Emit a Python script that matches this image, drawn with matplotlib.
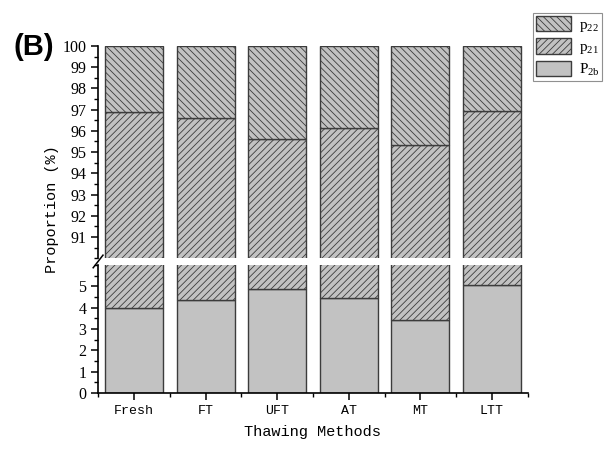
import matplotlib as mpl
mpl.use("Agg")
import matplotlib.pyplot as plt
from matplotlib.lines import Line2D
from matplotlib.ticker import MultipleLocator
import numpy as np

# data
Methods = ["Fresh", "FT", "UFT", "AT", "MT", "LTT"]
P2b = [4.0, 4.37, 4.88, 4.45, 3.4, 5.07]
p21 = [92.9, 92.22, 90.76, 91.7, 91.93, 91.85]
p22 = [3.1, 3.41, 4.36, 3.85, 4.67, 3.08]

FillColor = "#c2c2c2"
EdgeColor = "#3c3c3c"
mpl.rcParams["hatch.color"] = "#3c3c3c"
mpl.rcParams["hatch.linewidth"] = 0.6
mpl.rcParams["mathtext.fontset"] = "custom"
mpl.rcParams["mathtext.rm"] = "Liberation Serif"
mpl.rcParams["mathtext.it"] = "Liberation Serif"

MonoFont = "Liberation Mono"
SerifFont = "Liberation Serif"

fig = plt.figure(figsize=(6.13, 4.5), dpi=100)
axTop = fig.add_axes([0.160, 0.426, 0.701, 0.472])
axBot = fig.add_axes([0.160, 0.127, 0.701, 0.284])

x = np.arange(len(Methods))
Width = 0.81
bottom21 = np.array(P2b)
bottom22 = bottom21 + np.array(p21)

for ax in [axTop, axBot]:
    b1 = ax.bar(x, P2b, Width, color=FillColor, edgecolor=EdgeColor, linewidth=1.0,
                label=r"P$_{\mathrm{2b}}$")
    b2 = ax.bar(x, p21, Width, bottom=bottom21, color=FillColor, edgecolor=EdgeColor,
                linewidth=1.0, hatch="/////", label=r"p$_{\mathrm{21}}$")
    b3 = ax.bar(x, p22, Width, bottom=bottom22, color=FillColor, edgecolor=EdgeColor,
                linewidth=1.0, hatch="\\\\\\\\\\", label=r"p$_{\mathrm{22}}$")
    ax.set_xlim(-0.5, 5.5)
    for s in ["top", "right"]:
        ax.spines[s].set_visible(False)
    ax.spines["left"].set_linewidth(1.2)
    ax.spines["bottom"].set_linewidth(1.2)
    ax.tick_params(axis="both", which="major", direction="out", length=5, width=1.1)
    ax.tick_params(axis="both", which="minor", direction="out", length=3, width=1.0)
    ax.yaxis.set_minor_locator(MultipleLocator(0.5))

# top panel
axTop.set_ylim(90, 100)
axTop.set_yticks(np.arange(91, 101))
axTop.spines["bottom"].set_visible(False)
axTop.tick_params(axis="x", which="both", bottom=False, labelbottom=False)

# bottom panel
axBot.set_ylim(0, 6)
axBot.set_yticks(np.arange(0, 6))
axBot.set_xticks(x)
axBot.set_xticks(np.arange(-0.5, 6.0, 1.0), minor=True)
axBot.set_xticklabels(Methods, fontfamily=MonoFont, fontsize=9.5)

for ax in [axTop, axBot]:
    for lab in ax.get_yticklabels():
        lab.set_fontfamily(SerifFont)
        lab.set_fontsize(11.5)

axBot.set_xlabel("Thawing Methods", fontfamily=MonoFont, fontsize=11, labelpad=6)
fig.text(0.085, 0.535, "Proportion (%)", rotation=90, ha="center", va="center",
         fontfamily=MonoFont, fontsize=11)

# break mark on the axis
fig.add_artist(Line2D([0.152, 0.168], [0.405, 0.433], color="black", linewidth=1.1))

fig.text(0.055, 0.895, "(B)", fontfamily="Liberation Sans", fontweight="bold", fontsize=21,
         ha="center", va="center")

handles = [b3, b2, b1]
leg = fig.legend(handles, [h.get_label() for h in handles], loc="upper left",
                 bbox_to_anchor=(0.869, 0.971), fancybox=False, framealpha=1,
                 edgecolor="#909090", handlelength=2.3, handleheight=1.15,
                 labelspacing=0.3, borderpad=0.2, handletextpad=0.5,
                 borderaxespad=0, prop={"family": SerifFont, "size": 11})
leg.get_frame().set_linewidth(0.8)

fig.savefig("out.png", dpi=100)
